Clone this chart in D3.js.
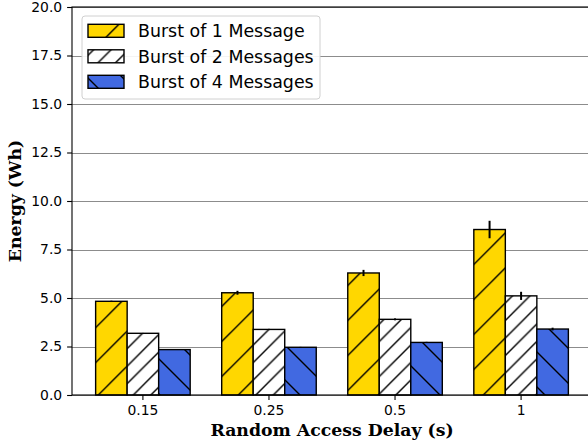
<!DOCTYPE html>
<html>
<head>
<meta charset="utf-8">
<script src="https://cdn.jsdelivr.net/npm/d3@7"></script>
<style>
  html, body { margin: 0; padding: 0; background: #fff; }
  svg { display: block; }
</style>
</head>
<body>
<svg id="chart" width="588" height="448"></svg>
<script>
// Energy per burst size at each random access delay
const delays = ["0.15", "0.25", "0.5", "1"];
const seriesNames = ["Burst of 1 Message", "Burst of 2 Messages", "Burst of 4 Messages"];
const burst1 = [4.83, 5.27, 6.29, 8.53];
const burst2 = [3.18, 3.38, 3.90, 5.11];
const burst4 = [2.34, 2.46, 2.71, 3.40];
const burst1Err = [0.03, 0.10, 0.16, 0.45];
const burst2Err = [0.02, 0.03, 0.05, 0.21];
const burst4Err = [0.02, 0.02, 0.03, 0.07];
const yTicks = [0, 2.5, 5, 7.5, 10, 12.5, 15, 17.5, 20];

const seriesValues = [burst1, burst2, burst4];
const seriesErrors = [burst1Err, burst2Err, burst4Err];
const fills = ["#ffd700", "#ffffff", "#4169e1"];
const hatchIds = ["hatch-ne", "hatch-ne2", "hatch-nw"];

const svg = d3.select("#chart");
const plotL = 72, plotR = 592, plotT = 7, plotB = 395;

const x = d3.scaleBand().domain(delays).range([plotL, plotR])
  .paddingInner(0.25).paddingOuter(0.1875);
const xSub = d3.scaleBand().domain(d3.range(seriesNames.length))
  .range([0, x.bandwidth()]).padding(0);
const y = d3.scaleLinear().domain([0, 20]).range([plotB, plotT]);

// hatch patterns, anchored in page space
const defs = svg.append("defs");
function hatch(id, s, ox, oy, dir) {
  const p = defs.append("pattern").attr("id", id)
    .attr("patternUnits", "userSpaceOnUse")
    .attr("width", s).attr("height", s).attr("x", ox).attr("y", oy);
  const d = dir === "ne"
    ? `M${-s},${s} L${s},${-s} M0,${s} L${s},0 M0,${2 * s} L${2 * s},0`
    : `M${-s},0 L${s},${2 * s} M0,0 L${s},${s} M0,${-s} L${2 * s},${s}`;
  p.append("path").attr("d", d).attr("stroke", "#000")
    .attr("stroke-width", 1.4).attr("fill", "none");
}
hatch("hatch-ne", 35, 3.3, 0, "ne");
hatch("hatch-ne2", 17.5, 3.3, 0, "ne");
hatch("hatch-nw", 35, 0, 25, "nw");

// grid lines
svg.append("g").selectAll("line").data(yTicks).join("line")
  .attr("x1", plotL).attr("x2", plotR)
  .attr("y1", d => Math.round(y(d)) + 0.5).attr("y2", d => Math.round(y(d)) + 0.5)
  .attr("stroke", "#8c8c8c").attr("stroke-width", 1.2);

// bars
const groups = svg.append("g").selectAll("g").data(seriesNames).join("g");
groups.each(function (name, si) {
  const g = d3.select(this);
  const vals = seriesValues[si];
  const rects = delays.map((c, i) => ({ c, v: vals[i] }));
  g.selectAll("rect.fill").data(rects).join("rect").attr("class", "fill")
    .attr("x", d => x(d.c) + xSub(si)).attr("width", xSub.bandwidth())
    .attr("y", d => y(d.v)).attr("height", d => y(0) - y(d.v))
    .attr("fill", fills[si]);
  g.selectAll("rect.hatch").data(rects).join("rect").attr("class", "hatch")
    .attr("x", d => x(d.c) + xSub(si)).attr("width", xSub.bandwidth())
    .attr("y", d => y(d.v)).attr("height", d => y(0) - y(d.v))
    .attr("fill", `url(#${hatchIds[si]})`)
    .attr("stroke", "#000").attr("stroke-width", 1.4);
});

// error bars
groups.each(function (name, si) {
  const g = d3.select(this);
  const vals = seriesValues[si], errs = seriesErrors[si];
  g.selectAll("line.err").data(delays.map((c, i) => ({ c, v: vals[i], e: errs[i] })))
    .join("line").attr("class", "err")
    .attr("x1", d => x(d.c) + xSub(si) + xSub.bandwidth() / 2)
    .attr("x2", d => x(d.c) + xSub(si) + xSub.bandwidth() / 2)
    .attr("y1", d => y(d.v - d.e)).attr("y2", d => y(d.v + d.e))
    .attr("stroke", "#000").attr("stroke-width", 2);
});

// axes
const fontTick = "DejaVu Sans, sans-serif";
const xAxis = svg.append("g").attr("transform", `translate(0,${plotB})`)
  .call(d3.axisBottom(x).tickSize(4.9).tickSizeOuter(0).tickPadding(4.9));
const yAxis = svg.append("g").attr("transform", `translate(${plotL},0)`)
  .call(d3.axisLeft(y).tickValues(yTicks).tickFormat(d3.format(".1f"))
    .tickSize(4.9).tickSizeOuter(0).tickPadding(4.9));
[xAxis, yAxis].forEach(a => {
  a.select(".domain").remove();
  a.selectAll(".tick line").attr("stroke", "#000").attr("stroke-width", 1.1);
  a.selectAll(".tick text").attr("fill", "#000")
    .style("font-family", fontTick).style("font-size", "13.9px");
});

// spines
svg.append("rect").attr("x", plotL).attr("y", plotT)
  .attr("width", plotR - plotL).attr("height", plotB - plotT)
  .attr("fill", "none").attr("stroke", "#000").attr("stroke-width", 1.1);

// axis titles
svg.append("text").attr("x", (plotL + plotR) / 2).attr("y", 436)
  .attr("text-anchor", "middle")
  .style("font-family", "DejaVu Serif, serif").style("font-weight", "bold")
  .style("font-size", "17.3px").text("Random Access Delay (s)");
svg.append("text")
  .attr("transform", `translate(21,${(plotT + plotB) / 2}) rotate(-90)`)
  .attr("text-anchor", "middle")
  .style("font-family", "DejaVu Serif, serif").style("font-weight", "bold")
  .style("font-size", "17.3px").text("Energy (Wh)");

// legend
const leg = svg.append("g");
leg.append("rect").attr("x", 82).attr("y", 16).attr("width", 238).attr("height", 83)
  .attr("rx", 3).attr("fill", "#fff").attr("fill-opacity", 0.9)
  .attr("stroke", "#d0d0d0").attr("stroke-width", 1);
const rows = leg.selectAll("g.row").data(seriesNames).join("g").attr("class", "row");
rows.append("rect").attr("x", 88).attr("y", (d, i) => 24.3 + i * 25.5)
  .attr("width", 36).attr("height", 13).attr("fill", (d, i) => fills[i]);
rows.append("rect").attr("x", 88).attr("y", (d, i) => 24.3 + i * 25.5)
  .attr("width", 36).attr("height", 13).attr("fill", (d, i) => `url(#${hatchIds[i]})`)
  .attr("stroke", "#000").attr("stroke-width", 1.4);
rows.append("text").attr("x", 138).attr("y", (d, i) => 30.8 + i * 25.5)
  .attr("dy", "0.36em")
  .style("font-family", fontTick).style("font-size", "17.4px").attr("fill", "#000")
  .text(d => d);
</script>
</body>
</html>
